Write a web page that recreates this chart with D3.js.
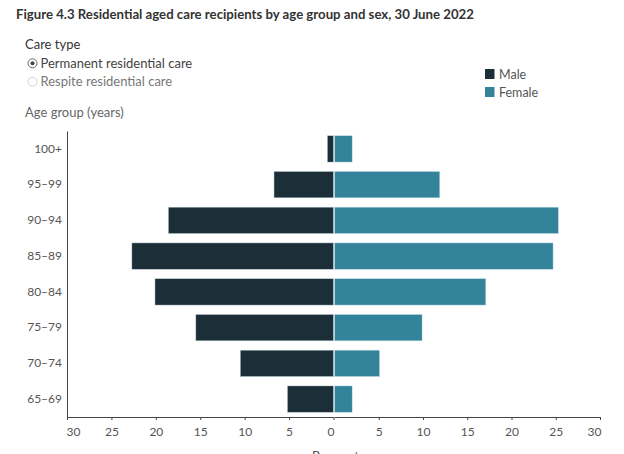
<!DOCTYPE html>
<html>
<head>
<meta charset="utf-8">
<script src="https://cdn.jsdelivr.net/npm/d3@7"></script>
<style>
  body { margin: 0; background: #fff; }
  text { font-family: Lato, "Noto Sans", sans-serif; }
</style>
</head>
<body>
<svg id="chart" width="624" height="454"></svg>
<script>
// age groups, top to bottom
const ageGroups = ["100+", "95–99", "90–94", "85–89", "80–84", "75–79", "70–74", "65–69"];
// per cent of recipients, permanent residential care
const male = [0.7, 6.7, 18.6, 22.7, 20.1, 15.5, 10.5, 5.2];
const female = [2.0, 11.9, 25.3, 24.7, 17.1, 9.9, 5.1, 2.0];
const xTicks = [0, 5, 10, 15, 20, 25, 30];
const careTypes = ["Permanent residential care", "Respite residential care"];
const sexes = ["Male", "Female"];

const svg = d3.select("#chart");

const colours = { Male: "#1c2e37", Female: "#33839b" };

const plotTop = 131, plotBottom = 417, plotLeft = 67, mid = 333.5, plotRight = 600;

const y = d3.scaleBand()
    .domain(ageGroups)
    .range([plotTop, plotBottom])
    .paddingInner(0.26)
    .paddingOuter(0.13);

const xMale = d3.scaleLinear().domain([30, 0]).range([plotLeft, mid]);
const xFemale = d3.scaleLinear().domain([0, 30]).range([mid + 1, plotRight]);

// title
svg.append("text")
    .attr("x", 16).attr("y", 19)
    .attr("font-size", 13.2)
    .attr("font-weight", "bold")
    .attr("fill", "#333")
    .text("Figure 4.3 Residential aged care recipients by age group and sex, 30 June 2022");

svg.append("text")
    .attr("x", 25).attr("y", 49)
    .attr("font-size", 13)
    .attr("fill", "#333")
    .text("Care type");

// radio buttons
const radio = svg.append("g").selectAll("g")
    .data(careTypes)
    .join("g")
    .attr("transform", (d, i) => `translate(32.5,${63.3 + i * 18.4})`);

radio.append("circle")
    .attr("r", 4.5)
    .attr("fill", "#fff")
    .attr("stroke", (d, i) => i === 0 ? "#555" : "#ccc")
    .attr("stroke-width", 0.9);

radio.filter((d, i) => i === 0).append("circle")
    .attr("r", 2)
    .attr("fill", "#444");

radio.append("text")
    .attr("x", 8)
    .attr("y", 4.5)
    .attr("font-size", 13)
    .attr("fill", (d, i) => i === 0 ? "#444" : "#777")
    .text(d => d);

// legend
const legend = svg.append("g").selectAll("g")
    .data(sexes)
    .join("g")
    .attr("transform", (d, i) => `translate(485,${69 + i * 18})`);

legend.append("rect")
    .attr("width", 9.5).attr("height", 10)
    .attr("fill", d => colours[d]);

legend.append("text")
    .attr("x", 14).attr("y", 9.5)
    .attr("font-size", 12.5)
    .attr("fill", "#555")
    .text(d => d);

svg.append("text")
    .attr("x", 25).attr("y", 117)
    .attr("font-size", 13)
    .attr("fill", "#666")
    .text("Age group (years)");

// bars
svg.append("g")
    .selectAll("rect")
    .data(ageGroups)
    .join("rect")
    .attr("x", (d, i) => xMale(male[i]))
    .attr("y", d => y(d))
    .attr("width", (d, i) => mid - xMale(male[i]))
    .attr("height", y.bandwidth())
    .attr("fill", colours.Male)
    .attr("stroke", "#cfe0e6")
    .attr("stroke-width", 0.5);

svg.append("g")
    .selectAll("rect")
    .data(ageGroups)
    .join("rect")
    .attr("x", xFemale(0))
    .attr("y", d => y(d))
    .attr("width", (d, i) => xFemale(female[i]) - xFemale(0))
    .attr("height", y.bandwidth())
    .attr("fill", colours.Female)
    .attr("stroke", "#cfe8ef")
    .attr("stroke-width", 0.5);

// y axis
const yAxis = svg.append("g")
    .attr("transform", `translate(${plotLeft},0)`)
    .call(d3.axisLeft(y).tickSize(0).tickPadding(5));
yAxis.select(".domain").attr("stroke", "#444");
yAxis.selectAll("text")
    .attr("font-size", 12)
    .attr("fill", "#555")
    .style("font-family", "Lato, 'Noto Sans', sans-serif");

// x axes (male side and female side)
function styleX(g) {
    g.select(".domain").attr("stroke", "#444");
    g.selectAll(".tick line").attr("stroke", "#444");
    g.selectAll("text")
        .attr("font-size", 12)
        .attr("fill", "#555")
        .attr("dy", "0.9em")
        .style("font-family", "Lato, 'Noto Sans', sans-serif");
}

const xAxisMale = svg.append("g")
    .attr("transform", `translate(0,${plotBottom})`)
    .call(d3.axisBottom(xMale).tickValues(xTicks).tickSizeInner(3).tickSizeOuter(0).tickPadding(5));
styleX(xAxisMale);
xAxisMale.selectAll(".tick").filter(d => d === 30).select("text").attr("text-anchor", "start").attr("x", -1);
xAxisMale.selectAll(".tick").filter(d => d === 0).select("text").attr("x", -3);

const xAxisFemale = svg.append("g")
    .attr("transform", `translate(0,${plotBottom})`)
    .call(d3.axisBottom(xFemale).tickValues(xTicks.slice(1)).tickSizeInner(3).tickSizeOuter(0).tickPadding(5));
styleX(xAxisFemale);
xAxisFemale.selectAll(".tick").filter(d => d === 30).select("text").attr("text-anchor", "end").attr("x", 1);

// axis title, partly below the window edge as in the reference
svg.append("text")
    .attr("x", mid + 2).attr("y", 461)
    .attr("text-anchor", "middle")
    .attr("font-size", 13)
    .attr("fill", "#555")
    .text("Per cent");
</script>
</body>
</html>
